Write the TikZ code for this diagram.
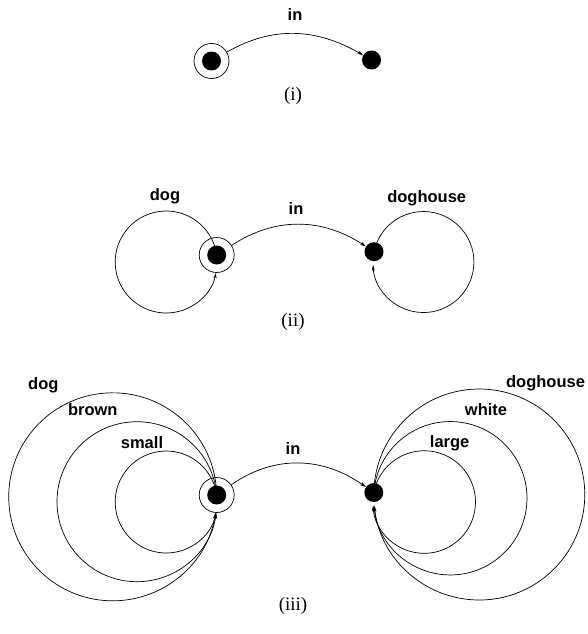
\documentclass[tikz,border=0pt]{standalone}
\usepackage{fontspec}
\setmainfont{Liberation Serif}
\newfontfamily\lblfont{Liberation Sans}
\usetikzlibrary{arrows.meta}
\begin{document}
\begin{tikzpicture}[x=1pt,y=1pt,
  lbl/.style={font=\lblfont\bfseries\fontsize{16.5}{18}\selectfont, inner sep=0pt},
  captxt/.style={font=\fontsize{19}{21}\selectfont, inner sep=0pt},
  dot/.style={circle, fill=black, minimum size=19pt, inner sep=0pt},
  ring/.style={circle, draw, line width=0.7pt, minimum size=35pt, inner sep=0pt},
  rel/.style={-{Stealth[length=6pt,width=3.5pt]}, line width=0.7pt},
  loopy/.style={-{Stealth[length=6pt,width=3pt]}, line width=0.7pt}]
\useasboundingbox (0,0) rectangle (587,-634);
% ---------- (i)
\node[ring] (A1r) at (211.5,-61) {};
\node[dot]  (A1)  at (211.5,-61) {};
\node[dot]  (B1)  at (371.5,-60) {};
\draw[rel] (A1r) to[out=30,in=150] (B1);
\node[lbl] (in1) at (295,-14.7) {in};
\node[captxt] (c1) at (293,-96) {(i)};
% ---------- (ii)
\node[ring] (A2r) at (216.7,-255) {};
\node[dot]  (A2)  at (216.7,-255) {};
\node[dot]  (B2)  at (374,-251.7) {};
\draw[loopy] (A2.center) arc[start angle=7.9, end angle=348.1, radius=51];
\draw[loopy] (B2.center) arc[start angle=168.2, end angle=-176.9, radius=50.5];
\draw[rel] (A2r) to[out=33,in=147] (B2);
\node[lbl] (in2) at (296,-208.7) {in};
\node[lbl] (dog2) at (165,-196.3) {dog};
\node[lbl] (dh2) at (426.7,-198.3) {doghouse};
\node[captxt] (c2) at (293,-321.7) {(ii)};
% ---------- (iii)
\node[ring] (A3r) at (216.7,-495) {};
\node[dot]  (A3)  at (216.7,-495) {};
\node[dot]  (B3)  at (373.8,-492.5) {};
\draw[loopy] (A3.center) arc[start angle=1, end angle=351.3, radius=104];
\draw[loopy] (A3.center) arc[start angle=4.8, end angle=352.2, radius=80];
\draw[loopy] (A3.center) arc[start angle=7.9, end angle=348.1, radius=51];
\draw[loopy] (B3.center) arc[start angle=178.9, end angle=-174, radius=105.5];
\draw[loopy] (B3.center) arc[start angle=175.7, end angle=-174.6, radius=76.7];
\draw[loopy] (B3.center) arc[start angle=169.3, end angle=-176.1, radius=51.3];
\draw[rel] (A3r) to[out=35,in=145] (B3);
\node[lbl] (in3) at (293,-449) {in};
\node[lbl] (dog3) at (43.3,-385.5) {dog};
\node[lbl] (brown3) at (92.8,-410) {brown};
\node[lbl] (small3) at (142,-443) {small};
\node[lbl] (dh3) at (545.5,-383.3) {doghouse};
\node[lbl] (white3) at (486,-410) {white};
\node[lbl] (large3) at (449.7,-443) {large};
\node[captxt] (c3) at (293,-606) {(iii)};
\end{tikzpicture}
\end{document}
